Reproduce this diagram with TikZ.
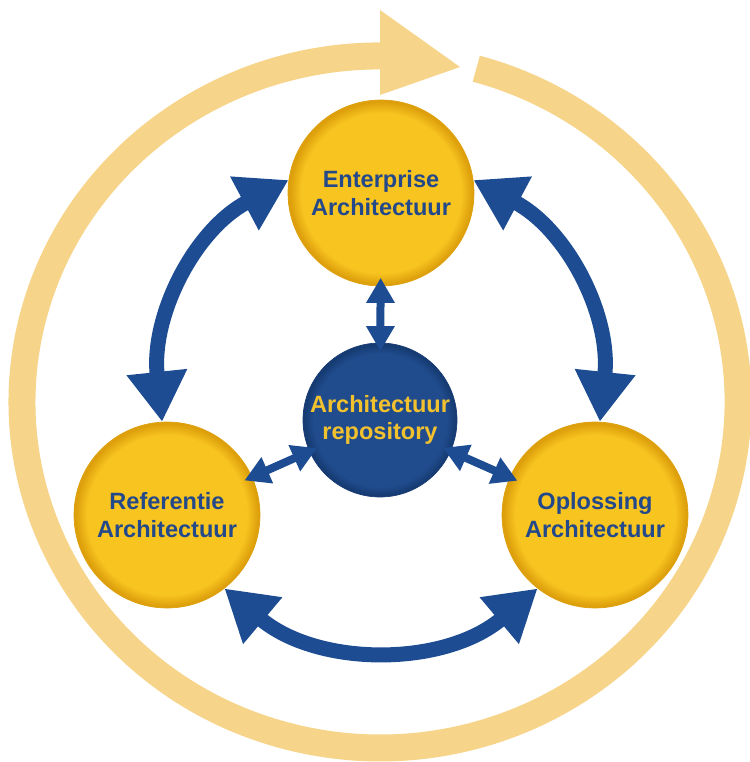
\documentclass[tikz,border=0pt]{standalone}
\usepackage{fontspec}
\setmainfont{Liberation Sans}
\usetikzlibrary{arrows.meta, positioning}
\usepackage{xcolor}

\definecolor{ringorange}{HTML}{F6D48A}
\definecolor{nodeyellow}{HTML}{F8C420}
\definecolor{nodeyellowdark}{HTML}{DDA00C}
\definecolor{repblue}{HTML}{204C8E}
\definecolor{repbluedark}{HTML}{163B72}
\definecolor{arrowblue}{HTML}{1D4C93}
\definecolor{textblue}{HTML}{23498A}
\definecolor{textyellow}{HTML}{F2C12E}

\pgfdeclareradialshading{yellowball}{\pgfpointorigin}{color(0bp)=(nodeyellow); color(21.5bp)=(nodeyellow); color(24.5bp)=(nodeyellowdark); color(25bp)=(nodeyellowdark); color(50bp)=(nodeyellowdark)}
\pgfdeclareradialshading{blueball}{\pgfpointorigin}{color(0bp)=(repblue); color(21.5bp)=(repblue); color(24.5bp)=(repbluedark); color(25bp)=(repbluedark); color(50bp)=(repbluedark)}

\begin{document}
\begin{tikzpicture}[x=0.02cm, y=0.02cm,
	archnode/.style={circle, minimum size=3.72cm, inner sep=0pt, shading=yellowball, draw=nodeyellowdark, text=textblue, align=center, font=\fontsize{13.4}{15.8}\selectfont\bfseries},
	repnode/.style={circle, minimum size=3.08cm, inner sep=0pt, shading=blueball, draw=repbluedark, text=textyellow, align=center, font=\fontsize{13.4}{15.8}\selectfont\bfseries},
	bigarrow/.style={draw=arrowblue, line width=0.3cm, {Triangle[width=1.15cm,length=1cm]}-{Triangle[width=1.15cm,length=1cm]}},
	smallarrow/.style={draw=arrowblue, line width=0.16cm, {Triangle[width=0.54cm,length=0.5cm]}-{Triangle[width=0.54cm,length=0.5cm]}, shorten <=-0.17cm, shorten >=-0.17cm},
	ring/.style={draw=ringorange, line width=0.54cm}]
		\useasboundingbox (0,0) rectangle (750,762);
		
		\draw[ring] (476.3,693.3) arc[start angle=74.4, end angle=-272, x radius=358, y radius=346];
		\fill[ringorange] (380,752) -- (460,695) -- (380,667) -- cycle;
		
		\node[archnode] (ent) at (381,569) {Enterprise\\Architectuur};
		\node[archnode] (ref) at (167,247) {Referentie\\Architectuur};
		\node[archnode] (opl) at (595,247) {Oplossing\\Architectuur};
		\node[repnode] (rep) at (380,342) {Architectuur\\repository};
		
		\draw[bigarrow] (ent.172) to[out=208, in=96] (ref.93);
		\draw[bigarrow] (ent.8) to[out=-28, in=84] (opl.87);
		\draw[bigarrow] (ref.-52) to[out=-40, in=220] (opl.232);
		\draw[smallarrow] (ent) -- (rep);
		\draw[smallarrow] (rep) -- (ref);
		\draw[smallarrow] (rep) -- (opl);
	\end{tikzpicture}
\end{document}
